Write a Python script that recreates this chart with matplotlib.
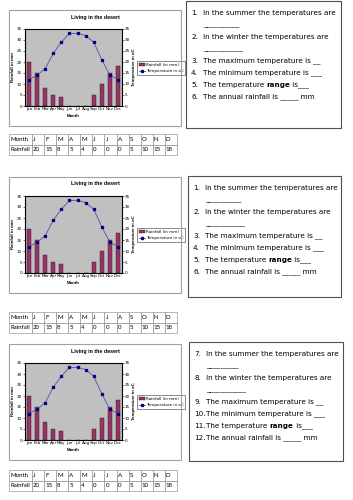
import matplotlib
matplotlib.use('Agg')
import matplotlib.pyplot as plt
from matplotlib.patches import Rectangle
from matplotlib.lines import Line2D
from matplotlib.patches import Patch

# data
months = ['Jan', 'Feb', 'Mar', 'Apr', 'May', 'Jun', 'Jul', 'Aug', 'Sep', 'Oct', 'Nov', 'Dec']
month_letters = ['J', 'F', 'M', 'A', 'M', 'J', 'J', 'A', 'S', 'O', 'N', 'D']
rainfall = [20, 15, 8, 5, 4, 0, 0, 0, 5, 10, 15, 18]
temperature = [12, 14, 17, 24, 29, 33, 33, 32, 29, 21, 14, 12]
y_ticks = [0, 5, 10, 15, 20, 25, 30, 35]

questions_a = [
    ('1.', 'In the summer the temperatures are'),
    ('', '__________'),
    ('2.', 'In the winter the temperatures are'),
    ('', '___________'),
    ('3.', 'The maximum temperature is __'),
    ('4.', 'The minimum temperature is ___'),
    ('5.', 'The temperature |range| is___'),
    ('6.', 'The annual rainfall is _____ mm'),
]
questions_b = [
    ('7.', 'In the summer the temperatures are'),
    ('', '_________'),
    ('8.', 'In the winter the temperatures are'),
    ('', '___________'),
    ('9.', 'The maximum temperature is __'),
    ('10.', 'The minimum temperature is ___'),
    ('11.', 'The temperature |range| is___'),
    ('12.', 'The annual rainfall is _____ mm'),
]

W, H = 353, 500
fig = plt.figure(figsize=(W / 100, H / 100), dpi=100)
fig.patch.set_facecolor('white')


def frac(x0, y0, x1, y1):
    # pixel box (top-left origin) -> figure fraction
    return [x0 / W, 1 - y1 / H, (x1 - x0) / W, (y1 - y0) / H]


def box(x0, y0, x1, y1, ec, lw):
    l, b, w, h = frac(x0, y0, x1, y1)
    fig.add_artist(Rectangle((l, b), w, h, transform=fig.transFigure,
                             fill=False, ec=ec, lw=lw))


def chart(top):
    x0, x1 = 9, 181
    box(x0, top, x1, top + 116, '#a0a0a0', 0.8)
    fig.text(95 / W, 1 - (top + 7) / H, 'Living in the desert', fontsize=3.8,
             fontweight='bold', ha='center', va='center', family='Liberation Sans')

    ax = fig.add_axes(frac(25, top + 19, 122, top + 96))
    xs = range(len(months))
    ax.set_facecolor('#c0c0c0')
    ax.bar(xs, rainfall, width=0.5, color='#993366', edgecolor='#202020', lw=0.3, zorder=2)
    ax.set_xlim(-0.5, 11.5)
    ax.set_ylim(0, 35)
    ax.set_yticks(y_ticks)
    ax.set_xticks(list(xs))
    ax.set_xticklabels(months)
    ax.tick_params(labelsize=3.0, length=1.2, width=0.4, pad=1)
    ax.tick_params(axis='x', length=0)
    for s in ax.spines.values():
        s.set_linewidth(0.5)
    ax.set_ylabel('Rainfall in mm', fontsize=3.2, fontweight='bold', labelpad=1.5,
                  family='Liberation Sans')
    ax.set_xlabel('Month', fontsize=3.2, fontweight='bold', labelpad=2,
                  family='Liberation Sans')

    ax2 = ax.twinx()
    ax2.plot(xs, temperature, color='#5050b0', lw=0.6, marker='s', ms=1.4,
             mfc='#000080', mec='#000080', zorder=3)
    ax2.set_ylim(0, 35)
    ax2.set_yticks(y_ticks)
    ax2.tick_params(labelsize=3.0, length=1.2, width=0.4, pad=1)
    ax2.set_ylabel('Temperature in oC', fontsize=3.2, fontweight='bold', labelpad=1.5,
                   rotation=90, family='Liberation Sans')

    handles = [Patch(facecolor='#993366', edgecolor='#202020', lw=0.3),
               Line2D([], [], color='#5050b0', lw=0.6, marker='s', ms=1.4,
                      mfc='#000080', mec='#000080')]
    leg = ax.legend(handles, ['Rainfall (in mm)', 'Temperature in oC'],
                    loc='center left', bbox_to_anchor=(137 / W, 1 - (top + 58) / H),
                    bbox_transform=fig.transFigure, fontsize=3.0, frameon=True,
                    fancybox=False, edgecolor='black', handlelength=1.4,
                    handleheight=0.8, borderpad=0.4, labelspacing=0.6,
                    handletextpad=0.3, borderaxespad=0)
    leg.get_frame().set_linewidth(0.4)


def table(top):
    ax = fig.add_axes(frac(9, top, 177, top + 21))
    ax.axis('off')
    cells = [['Month'] + month_letters, ['Rainfall'] + [str(v) for v in rainfall]]
    widths = [23] + [12.1] * 12
    tot = sum(widths)
    t = ax.table(cellText=cells, colWidths=[w / tot for w in widths],
                 cellLoc='left', bbox=[0, 0, 1, 1])
    t.auto_set_font_size(False)
    for (r, c), cell in t.get_celld().items():
        cell.set_linewidth(0.4)
        cell.set_edgecolor('#808080')
        cell.PAD = 0.08
        cell.get_text().set_fontsize(4.4)
        cell.get_text().set_family('Lato')


def questions(x0, y0, x1, y1, items):
    box(x0, y0, x1, y1, '#505050', 0.8)
    renderer = fig.canvas.get_renderer()
    for i, (num, txt) in enumerate(items):
        y = 1 - (y0 + 12 + 12 * i) / H
        if num:
            fig.text((x0 + 5) / W, y, num, fontsize=5.2, va='center', family='DejaVu Sans')
        parts = txt.split('|')
        x = (x0 + 17) / W
        for k, p in enumerate(parts):
            t = fig.text(x, y, p, fontsize=5.2, va='center', family='DejaVu Sans',
                         fontweight='bold' if k % 2 else 'normal')
            bb = t.get_window_extent(renderer)
            x += bb.width / fig.bbox.width


chart(10)
table(134)
questions(186, 1, 341, 128, questions_a)

chart(177)
table(312)
questions(188, 176, 341, 297, questions_a)

chart(344)
table(470)
questions(189, 342, 343, 461, questions_b)

fig.savefig('out.png', dpi=100)
